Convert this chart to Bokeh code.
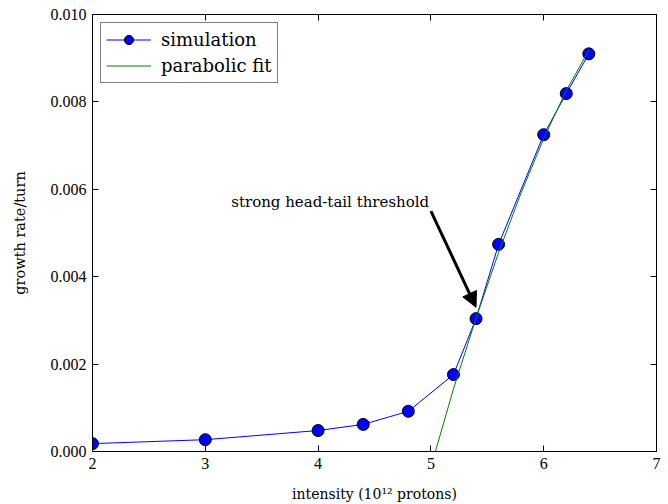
from bokeh.plotting import figure
from bokeh.models import Range1d, LinearAxis, Legend, LegendItem, Arrow, NormalHead, Label, FixedTicker, NumeralTickFormatter
from bokeh.embed import file_html
from bokeh.resources import INLINE

# data
intensity = [2.0, 3.0, 4.0, 4.4, 4.8, 5.2, 5.4, 5.6, 6.0, 6.2, 6.4]
growth = [0.00018, 0.00027, 0.00048, 0.00062, 0.00092, 0.00176, 0.00304, 0.00474, 0.00725, 0.00819, 0.00910]
fit_x = [5.04, 5.2, 5.4, 5.6, 5.8, 6.0, 6.2, 6.4]
fit_y = [0.0, 0.00143, 0.00305, 0.00455, 0.00592, 0.00716, 0.00826, 0.00918]
x_ticks = [2, 3, 4, 5, 6, 7]
y_ticks = [0.0, 0.002, 0.004, 0.006, 0.008, 0.010]
annot_text = "strong head-tail threshold"
annot_xy = (5.40, 0.00330)
annot_start = (5.0, 0.0055)
annot_text_xy = (3.23, 0.0055)

SERIF = "DejaVu Serif"
TICKFONT = "Liberation Serif"

p = figure(width=668, height=504, output_backend="svg", toolbar_location=None,
           x_range=Range1d(2, 7), y_range=Range1d(0, 0.010),
           min_border_left=92, min_border_right=12, min_border_top=14, min_border_bottom=53,
           x_axis_location=None, y_axis_location=None)
p.grid.visible = False
p.outline_line_color = "black"
p.outline_line_width = 1
p.background_fill_color = "white"
p.border_fill_color = "white"

def style_axis(ax, labels=True):
    ax.major_tick_in = 6
    ax.major_tick_out = 0
    ax.minor_tick_in = 0
    ax.minor_tick_out = 0
    ax.axis_line_color = "black"
    ax.major_tick_line_color = "black"
    ax.major_label_text_font = TICKFONT
    ax.major_label_text_font_size = "16px"
    ax.major_label_text_color = "black"
    ax.axis_label_text_font = SERIF
    ax.axis_label_text_font_style = "normal"
    ax.axis_label_text_color = "black"
    if not labels:
        ax.major_label_text_font_size = "0px"
        ax.major_label_text_alpha = 0

xb = LinearAxis(ticker=FixedTicker(ticks=x_ticks), axis_label="intensity (10¹² protons)")
style_axis(xb)
xb.axis_label_text_font_size = "14px"
xb.axis_label_standoff = 14
xb.major_label_standoff = 6
p.add_layout(xb, "below")

xt = LinearAxis(ticker=FixedTicker(ticks=x_ticks))
style_axis(xt, labels=False)
p.add_layout(xt, "above")

yl = LinearAxis(ticker=FixedTicker(ticks=y_ticks), axis_label="growth rate/turn",
                formatter=NumeralTickFormatter(format="0.000"))
style_axis(yl)
yl.axis_label_text_font_size = "14.5px"
yl.axis_label_standoff = 20
yl.major_label_standoff = 6
p.add_layout(yl, "left")

yr = LinearAxis(ticker=FixedTicker(ticks=y_ticks))
style_axis(yr, labels=False)
p.add_layout(yr, "right")

sim_line = p.line(intensity, growth, line_color="blue", line_width=1)
sim_pts = p.scatter(intensity, growth, size=12, fill_color="blue", line_color="black", line_width=1)
fit_line = p.line(fit_x, fit_y, line_color="#008000", line_width=1)

p.add_layout(Arrow(end=NormalHead(size=15, fill_color="black", line_color="black"),
                   x_start=annot_start[0], y_start=annot_start[1], x_end=annot_xy[0], y_end=annot_xy[1],
                   line_color="black", line_width=3))
p.add_layout(Label(x=annot_text_xy[0], y=annot_text_xy[1], text=annot_text,
                   text_font=SERIF, text_font_size="15px", text_color="black"))

legend = Legend(items=[LegendItem(label="simulation", renderers=[sim_line, sim_pts]),
                       LegendItem(label="parabolic fit", renderers=[fit_line])],
                location="top_left", border_line_color="black", border_line_width=1,
                label_text_font=SERIF, label_text_font_size="18px", label_text_color="black",
                glyph_width=45, glyph_height=23, label_height=23, label_standoff=10,
                spacing=3, padding=5, margin=8,
                background_fill_alpha=1)
p.add_layout(legend)

open("out.html", "w").write(file_html(p, INLINE))
